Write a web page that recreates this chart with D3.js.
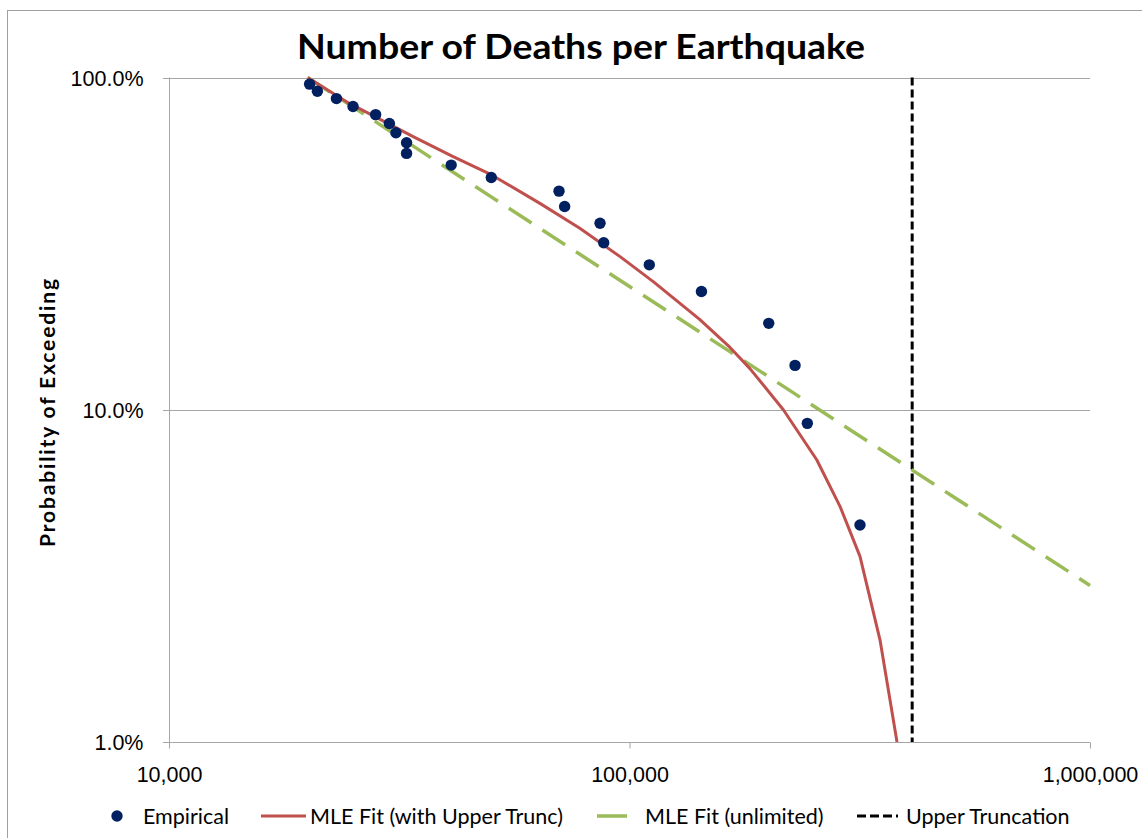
<!DOCTYPE html>
<html>
<head>
<meta charset="utf-8">
<script src="https://cdn.jsdelivr.net/npm/d3@7"></script>
<style>
  body { margin: 0; background: #fff; }
  svg { font-family: Lato, "Open Sans", sans-serif; }
</style>
</head>
<body>
<div id="chart"></div>
<script>
// --------------- Data ---------------
const empiricalDeaths = [20200, 21000, 23100, 25100, 28100, 30100, 31100, 32800, 32800, 41000,
  50100, 70300, 72300, 86300, 87900, 110400, 143300, 200600, 228800, 243300, 316600];
const empiricalProb = [0.955, 0.909, 0.864, 0.818, 0.773, 0.727, 0.682, 0.636, 0.591, 0.545,
  0.500, 0.455, 0.409, 0.364, 0.318, 0.273, 0.227, 0.182, 0.136, 0.091, 0.045];

const truncDeaths = [20000, 24300, 33900, 41400, 50200, 63900, 78000, 95400, 112600, 142000,
  165300, 182600, 215800, 255000, 286500, 316600, 349900, 381000];
const truncProb = [1.0, 0.845, 0.664, 0.578, 0.509, 0.418, 0.352, 0.289, 0.243, 0.187,
  0.154, 0.133, 0.100, 0.0707, 0.0512, 0.0362, 0.0203, 0.010];

const unlimitedDeaths = [20000, 30000, 50000, 100000, 200000, 300000, 500000, 1000000];
const unlimitedProb = [1.0, 0.694, 0.438, 0.235, 0.126, 0.0874, 0.0552, 0.0296];

const upperTruncation = 411000;

const xTicks = [10000, 100000, 1000000];
const yTicks = [0.01, 0.1, 1];

const legendLabels = ["Empirical", "MLE Fit (with Upper Trunc)", "MLE Fit (unlimited)", "Upper Truncation"];

// --------------- Constants ---------------
const WIDTH = 1142;
const HEIGHT = 838;
const PLOT = { left: 169, right: 1090, top: 77.5, bottom: 742 };
const COLORS = { dot: "#002060", red: "#C0504D", green: "#9BBB59", grid: "#A6A6A6" };
const FONT_SIZE = "21.5px";

const svg = d3.select("#chart")
  .append("svg")
  .attr("width", WIDTH)
  .attr("height", HEIGHT);

// outer chart frame
svg.append("rect")
  .attr("x", 7.5).attr("y", 10.5)
  .attr("width", WIDTH + 10).attr("height", HEIGHT + 10)
  .attr("fill", "#fff").attr("stroke", "#A0A0A0");

const X_SCALE = d3.scaleLog().domain([10000, 1000000]).range([PLOT.left, PLOT.right]);
const Y_SCALE = d3.scaleLog().domain([0.01, 1]).range([PLOT.bottom, PLOT.top]);

svg.append("clipPath").attr("id", "plot-clip")
  .append("rect")
  .attr("x", PLOT.left).attr("y", PLOT.top - 4)
  .attr("width", PLOT.right - PLOT.left + 4)
  .attr("height", PLOT.bottom - PLOT.top + 4);

// gridlines
svg.append("g")
  .selectAll("line")
  .data(yTicks)
  .enter()
  .append("line")
  .attr("x1", PLOT.left - 6).attr("x2", PLOT.right)
  .attr("y1", (d) => Math.round(Y_SCALE(d)) + 0.5)
  .attr("y2", (d) => Math.round(Y_SCALE(d)) + 0.5)
  .attr("stroke", COLORS.grid).attr("stroke-width", 1);

// y axis
const yAxis = svg.append("g")
  .attr("transform", `translate(${PLOT.left + 0.5},0)`)
  .call(d3.axisLeft(Y_SCALE).tickValues(yTicks).tickFormat(d3.format(".1%")).tickSize(6).tickPadding(20));
yAxis.select(".domain").attr("stroke", COLORS.grid).attr("d", `M0,${PLOT.top}V${PLOT.bottom + 5}`);
yAxis.selectAll(".tick line").remove();
yAxis.selectAll("text").attr("font-size", FONT_SIZE).attr("fill", "#000").attr("dy", "0.36em");

// x axis
const xAxis = svg.append("g")
  .attr("transform", `translate(0,${Math.round(PLOT.bottom) + 0.5})`)
  .call(d3.axisBottom(X_SCALE).tickValues(xTicks).tickFormat(d3.format(",")).tickSize(6).tickPadding(18));
xAxis.select(".domain").remove();
xAxis.selectAll(".tick line").attr("stroke", COLORS.grid);
xAxis.selectAll("text").attr("font-size", FONT_SIZE).attr("fill", "#000");

const plot = svg.append("g").attr("clip-path", "url(#plot-clip)");

const line = d3.line()
  .x((d) => X_SCALE(d[0]))
  .y((d) => Y_SCALE(d[1]));

// upper truncation
plot.append("line")
  .attr("x1", X_SCALE(upperTruncation)).attr("x2", X_SCALE(upperTruncation))
  .attr("y1", PLOT.top).attr("y2", PLOT.bottom)
  .attr("stroke", "#000").attr("stroke-width", 3)
  .attr("stroke-dasharray", "8,4");

// unlimited fit
plot.append("path")
  .datum(d3.zip(unlimitedDeaths, unlimitedProb))
  .attr("d", line)
  .attr("fill", "none")
  .attr("stroke", COLORS.green).attr("stroke-width", 3.5)
  .attr("stroke-dasharray", "27,13");

// truncated fit
plot.append("path")
  .datum(d3.zip(truncDeaths, truncProb))
  .attr("d", line)
  .attr("fill", "none")
  .attr("stroke", COLORS.red).attr("stroke-width", 3)
  .attr("stroke-linejoin", "round");

// empirical points
svg.append("g")
  .selectAll("circle")
  .data(d3.zip(empiricalDeaths, empiricalProb))
  .enter()
  .append("circle")
  .attr("cx", (d) => X_SCALE(d[0]))
  .attr("cy", (d) => Y_SCALE(d[1]))
  .attr("r", 5.7)
  .attr("fill", COLORS.dot);

// title
svg.append("text")
  .attr("x", 581).attr("y", 59)
  .attr("text-anchor", "middle")
  .attr("font-size", "34px").attr("font-weight", "bold")
  .attr("textLength", 568).attr("lengthAdjust", "spacingAndGlyphs")
  .text("Number of Deaths per Earthquake");

// y label
svg.append("text")
  .attr("transform", "translate(47,413) rotate(-90)")
  .attr("text-anchor", "middle")
  .attr("dy", "0.36em")
  .attr("font-size", "21px").attr("font-weight", "bold")
  .attr("textLength", 268).attr("lengthAdjust", "spacing")
  .text("Probability of Exceeding");

// legend
const legend = svg.append("g").attr("transform", "translate(0,816)");
legend.append("circle").attr("cx", 117).attr("cy", 0).attr("r", 5.7).attr("fill", COLORS.dot);
legend.append("line").attr("x1", 261).attr("x2", 306).attr("y1", 0).attr("y2", 0)
  .attr("stroke", COLORS.red).attr("stroke-width", 3);
legend.append("line").attr("x1", 597).attr("x2", 627).attr("y1", 0).attr("y2", 0)
  .attr("stroke", COLORS.green).attr("stroke-width", 3.5);
legend.append("line").attr("x1", 857).attr("x2", 898).attr("y1", 0).attr("y2", 0)
  .attr("stroke", "#000").attr("stroke-width", 3).attr("stroke-dasharray", "9,4");

const legendX = [143, 310, 645, 906];
legend.selectAll("text.label")
  .data(legendLabels)
  .enter()
  .append("text")
  .attr("class", "label")
  .attr("x", (_d, i) => legendX[i])
  .attr("y", 0)
  .attr("dy", "0.36em")
  .attr("font-size", FONT_SIZE)
  .text((d) => d);
</script>
</body>
</html>
